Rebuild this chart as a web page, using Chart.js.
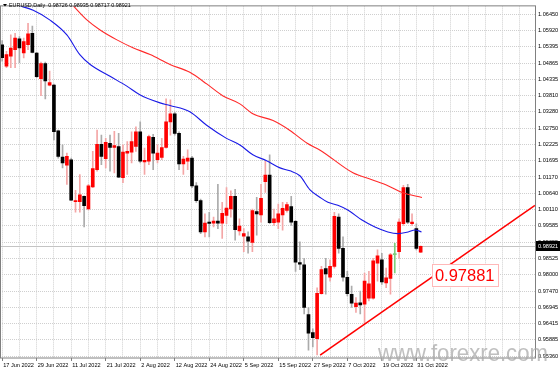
<!DOCTYPE html>
<html>
<head>
<meta charset="utf-8">
<script src="https://cdn.jsdelivr.net/npm/chart.js@4.4.0/dist/chart.umd.min.js"></script>
<style>
  html, body { margin: 0; padding: 0; background: #fff; }
  canvas { display: block; }
</style>
</head>
<body>
<canvas id="chart" width="560" height="373"></canvas>
<script>
// EURUSD daily candles, 17 Jun 2022 - 1 Nov 2022
const symbol = 'EURUSD,Daily';
const dateLabels = ['17 Jun 2022', '29 Jun 2022', '11 Jul 2022', '21 Jul 2022', '2 Aug 2022',
  '12 Aug 2022', '24 Aug 2022', '5 Sep 2022', '15 Sep 2022', '27 Sep 2022', '7 Oct 2022',
  '19 Oct 2022', '31 Oct 2022'];

const opens = [
  1.05460, 1.04766, 1.05086, 1.05300, 1.05651, 1.05194, 1.05460, 1.05834, 1.05194, 1.04363,
  1.04852, 1.04149, 1.04149, 1.02669, 1.01816, 1.01551, 1.01730, 1.00368, 1.00368, 1.00538,
  1.00132, 1.00848, 1.01410, 1.02232, 1.01762, 1.02264, 1.02126, 1.02158, 1.01145, 1.01944,
  1.01976, 1.02158, 1.02638, 1.01656, 1.01679, 1.02455, 1.01730, 1.01807, 1.02126, 1.02957,
  1.03222, 1.02583, 1.01592, 1.01679, 1.01784, 1.00880, 1.00400, 0.99387, 0.99707, 0.99675,
  0.99739, 0.99675, 0.99921, 1.00132, 1.00538, 0.99419, 0.99250, 0.99227, 0.99045, 1.00049,
  0.99940, 1.01017, 1.01231, 0.99684, 0.99707, 0.99940, 1.00081, 1.00209, 0.99729, 0.98396,
  0.98323, 0.96703, 0.96118, 0.95926, 0.97383, 0.98195, 0.97917, 0.98269, 0.99867, 0.98853,
  0.97917, 0.97364, 0.96958, 0.97086, 0.97045, 0.97236, 0.97236, 0.98374, 0.98483, 0.97735,
  0.97875, 0.98652, 0.98748, 0.99652, 1.00825, 0.99652, 0.99493, 0.98726
];
const highs = [
  1.05597, 1.05245, 1.05779, 1.05834, 1.05725, 1.05674, 1.06153, 1.06067, 1.05213, 1.04894,
  1.04894, 1.04606, 1.04181, 1.02689, 1.02209, 1.01944, 1.01784, 1.00739, 1.01251, 1.00560,
  1.00931, 1.01998, 1.02689, 1.02529, 1.02423, 1.02529, 1.02647, 1.02583, 1.02209, 1.02318,
  1.02638, 1.02797, 1.02957, 1.02104, 1.02529, 1.02551, 1.02209, 1.02423, 1.03702, 1.03670,
  1.03277, 1.02638, 1.01839, 1.02050, 1.01839, 1.00985, 1.00452, 0.99972, 1.00026, 0.99867,
  1.00931, 1.00346, 1.00825, 1.00720, 1.00771, 0.99812, 0.99493, 0.99387, 1.00132, 1.00506,
  1.00931, 1.01679, 1.01890, 1.00132, 1.00292, 1.00346, 1.00346, 1.00538, 0.99761, 0.99068,
  0.98534, 0.96936, 0.96245, 0.97575, 0.98269, 0.98534, 0.98483, 1.00026, 0.99972, 0.99227,
  0.98109, 0.97629, 0.97256, 0.97470, 0.98055, 0.98109, 0.98534, 0.98802, 0.98694, 0.98214,
  0.98694, 0.99013, 0.99812, 1.00899, 1.00931, 0.99972, 0.99652, 0.98935
];
const lows = [
  1.04926, 1.04715, 1.04715, 1.04715, 1.04875, 1.05035, 1.05300, 1.05194, 1.04395, 1.03807,
  1.03702, 1.04127, 1.02369, 1.01784, 1.01465, 1.00931, 1.00400, 1.00026, 1.00026, 0.99547,
  1.00100, 1.00825, 1.01359, 1.01570, 1.01465, 1.01359, 1.01305, 1.01145, 1.00985, 1.01251,
  1.01624, 1.01998, 1.01624, 1.01251, 1.01570, 1.01410, 1.01624, 1.01730, 1.02104, 1.02529,
  1.02529, 1.01410, 1.01251, 1.01410, 1.00825, 1.00346, 0.99333, 0.99227, 0.99227, 0.99547,
  0.99493, 0.99173, 0.99652, 0.99867, 0.99122, 0.99282, 0.98748, 0.98694, 0.98748, 0.99282,
  0.99707, 1.00666, 0.99652, 0.99601, 0.99493, 0.99441, 1.00026, 0.99601, 0.98109, 0.98163,
  0.96725, 0.95552, 0.95657, 0.95392, 0.97364, 0.97364, 0.97789, 0.98214, 0.98694, 0.97789,
  0.97310, 0.96936, 0.96776, 0.96725, 0.96405, 0.97150, 0.97204, 0.97789, 0.97684, 0.97575,
  0.97364, 0.98055, 0.98534, 0.99601, 0.99652, 0.99601, 0.98802, 0.98717
];
const closes = [
  1.05044, 1.05140, 1.05354, 1.05674, 1.05354, 1.05565, 1.05811, 1.05213, 1.04427, 1.04852,
  1.04287, 1.04236, 1.02638, 1.01839, 1.01624, 1.01839, 1.00420, 1.00400, 1.00592, 1.00241,
  1.00880, 1.01442, 1.02232, 1.01839, 1.02296, 1.02126, 1.02190, 1.01167, 1.01976, 1.01998,
  1.02318, 1.02638, 1.01679, 1.01711, 1.02478, 1.01944, 1.01944, 1.02126, 1.02957, 1.03222,
  1.02583, 1.01592, 1.01752, 1.01784, 1.00880, 1.00400, 0.99387, 0.99675, 0.99659, 0.99739,
  0.99675, 0.99994, 1.00164, 1.00538, 0.99461, 0.99579, 0.99333, 0.99090, 1.00081, 0.99972,
  1.00474, 1.01231, 0.99684, 0.99812, 0.99972, 1.00154, 1.00273, 0.99707, 0.98406, 0.98342,
  0.96936, 0.96105, 0.95958, 0.97396, 0.98163, 0.98023, 0.98269, 0.99889, 0.98853, 0.97917,
  0.97383, 0.97076, 0.97076, 0.97022, 0.97789, 0.97703, 0.98451, 0.98611, 0.97767, 0.97895,
  0.98643, 0.98652, 0.99707, 1.00825, 0.99707, 0.99707, 0.98853, 0.98921
];

// moving averages, sampled along the drawn curves (bar index, price)
const blueMaIdx = [3.7, 7.2, 11.1, 15.0, 18.0, 20.4, 25.0, 28.9, 31.9, 36.6, 38.9, 43.5, 47.4, 52.0,
  55.1, 58.1, 61.3, 64.4, 66.7, 69.0, 71.3, 73.7, 75.5, 77.8, 80.2, 83.4, 86.4, 89.4, 91.7, 94.1, 95.7, 97.2];
const blueMaVal = [1.06738, 1.06578, 1.06259, 1.05779, 1.05140, 1.04820, 1.04437, 1.04117, 1.03839,
  1.03574, 1.03488, 1.03286, 1.02848, 1.02423, 1.02209, 1.01890, 1.01698, 1.01465, 1.01369, 1.01209,
  1.00762, 1.00506, 1.00346, 1.00250, 1.00090, 0.99771, 0.99547, 0.99387, 0.99333, 0.99387, 0.99451, 0.99387];
const redMaIdx = [13.9, 16.4, 19.7, 22.7, 26.6, 30.3, 34.3, 38.9, 43.5, 47.5, 51.2, 55.1, 58.1, 62.8,
  66.7, 70.7, 73.7, 81.3, 85.7, 89.4, 92.7, 97.3];
const redMaVal = [1.07122, 1.06738, 1.06259, 1.05939, 1.05619, 1.05364, 1.05140, 1.04820, 1.04565,
  1.04181, 1.03798, 1.03542, 1.03222, 1.02999, 1.02679, 1.02264, 1.02040, 1.01305, 1.01081, 1.00889,
  1.00666, 1.00506];

// support trendline
const trendIdx = [73.7, 123.5];
const trendVal = [0.95392, 1.00250];
const trendLabel = 0.97881;

const priceTicks = [1.06450, 1.05920, 1.05395, 1.04865, 1.04335, 1.03810, 1.03280, 1.02750, 1.02225,
  1.01695, 1.01170, 1.00640, 1.00110, 0.99585, 0.99055, 0.98525, 0.98000, 0.97470, 0.96945, 0.96415,
  0.95885, 0.95360];

const n = closes.length;
const last = n - 1;
const tickFont = { family: 'Liberation Sans', size: 5.6 };

const bodyColors = closes.map((c, i) => c > opens[i] ? '#ff0000' : (c < opens[i] ? '#000000' : '#7ccf7c'));
const wickColors = closes.map((c, i) => c > opens[i] ? '#f4a6a6' : (c < opens[i] ? '#ababab' : '#7ccf7c'));

const wickData = closes.map((c, i) => ({ x: i, y: [lows[i], highs[i]] }));
const bodyData = closes.map((c, i) => ({ x: i, y: [opens[i], c] }));
const xy = (xs, ys) => xs.map((x, i) => ({ x: x, y: ys[i] }));

const extras = {
  id: 'extras',
  beforeDatasetsDraw(chart) {
    const { ctx, chartArea: a, scales: { y } } = chart;
    const py = Math.round(y.getPixelForValue(closes[last])) + 0.5;
    ctx.save();
    ctx.strokeStyle = '#c4c4c4';
    ctx.lineWidth = 1;
    ctx.beginPath();
    ctx.moveTo(a.left, py);
    ctx.lineTo(a.right, py);
    ctx.stroke();
    ctx.restore();
  },
  afterDraw(chart) {
    const { ctx, chartArea: a, scales: { x, y }, width } = chart;
    ctx.save();

    // frame
    ctx.strokeStyle = '#808080';
    ctx.lineWidth = 1;
    ctx.strokeRect(a.left + 0.5, a.top - 0.5, a.right - a.left, a.bottom - a.top + 0.5);

    // watermark
    ctx.save();
    ctx.font = '24px "Liberation Sans"';
    ctx.fillStyle = 'rgba(170,170,170,0.75)';
    const wm = 'www.forexre.com';
    const sx = 170 / ctx.measureText(wm).width;
    ctx.translate(width - 12, a.bottom + 3);
    ctx.scale(sx, 1);
    ctx.textAlign = 'right';
    ctx.textBaseline = 'alphabetic';
    ctx.fillText(wm, 0, 0);
    ctx.restore();

    // title
    ctx.fillStyle = '#000';
    ctx.beginPath();
    ctx.moveTo(3, 4); ctx.lineTo(7, 4); ctx.lineTo(5, 6.5); ctx.closePath();
    ctx.fill();
    ctx.font = '5.4px "Liberation Sans"';
    ctx.textAlign = 'left';
    ctx.textBaseline = 'middle';
    const ohlc = [opens[last], highs[last], lows[last], closes[last]].map(v => v.toFixed(5)).join(' ');
    ctx.fillText(symbol + '  ' + ohlc, 9, 5.5);

    // current price box on the axis
    const py = Math.round(y.getPixelForValue(closes[last]));
    ctx.fillStyle = '#000';
    ctx.fillRect(a.right + 1, py - 5, width - a.right - 1, 10);
    ctx.fillStyle = '#fff';
    ctx.font = '5.6px "Liberation Sans"';
    ctx.fillText(closes[last].toFixed(5), a.right + 3, py + 0.5);

    // trendline price label
    const lx = x.getPixelForValue(99.6);
    const ly = y.getPixelForValue(trendLabel) - 3;
    ctx.font = '16.5px "Liberation Sans"';
    const txt = trendLabel.toFixed(5);
    const tw = ctx.measureText(txt).width;
    ctx.fillStyle = '#fff';
    ctx.fillRect(lx, ly - 11, tw + 6, 22);
    ctx.strokeStyle = '#ffb8b8';
    ctx.strokeRect(Math.round(lx) + 0.5, Math.round(ly - 11) + 0.5, Math.round(tw + 6), 22);
    ctx.fillStyle = '#ff0000';
    ctx.textBaseline = 'middle';
    ctx.fillText(txt, lx + 3, ly + 1);

    ctx.restore();
  }
};

new Chart(document.getElementById('chart'), {
  type: 'bar',
  data: {
    datasets: [
      { type: 'line', data: xy(trendIdx, trendVal), borderColor: '#ff0000', borderWidth: 1.6,
        pointRadius: 0, order: 0 },
      { type: 'line', data: xy(redMaIdx, redMaVal), borderColor: '#ff2a2a', borderWidth: 1.1,
        pointRadius: 0, cubicInterpolationMode: 'monotone', order: 0 },
      { type: 'line', data: xy(blueMaIdx, blueMaVal), borderColor: '#1a1ae6', borderWidth: 1.1,
        pointRadius: 0, cubicInterpolationMode: 'monotone', order: 0 },
      { data: bodyData, backgroundColor: bodyColors, barThickness: 3, minBarLength: 1,
        grouped: false, order: 1 },
      { data: wickData, backgroundColor: wickColors, barThickness: 1, grouped: false, order: 2 }
    ]
  },
  options: {
    responsive: false,
    animation: false,
    events: [],
    layout: { padding: { top: 1, left: 0, right: 0, bottom: 0 } },
    plugins: { legend: { display: false }, tooltip: { enabled: false } },
    scales: {
      x: {
        type: 'linear',
        min: -0.5,
        max: 123.5,
        offset: false,
        afterBuildTicks: s => {
          s.ticks = [];
          for (let v = 0; v <= 120; v += 4) s.ticks.push({ value: v });
        },
        afterFit: s => { s.height = 15; },
        grid: {
          offset: false,
          color: '#cfcfcf',
          tickLength: 3,
          tickColor: c => (c.tick && c.tick.value % 8 === 0 && c.tick.value / 8 < dateLabels.length) ? '#808080' : 'rgba(0,0,0,0)'
        },
        border: { display: false, dash: [1, 1] },
        ticks: {
          autoSkip: false,
          maxRotation: 0,
          align: 'start',
          labelOffset: 1,
          padding: 1,
          color: '#000',
          font: tickFont,
          callback: v => (v % 8 === 0 && v / 8 < dateLabels.length) ? dateLabels[v / 8] : ''
        }
      },
      y: {
        type: 'linear',
        position: 'right',
        min: 0.95296,
        max: 1.06706,
        afterBuildTicks: s => { s.ticks = priceTicks.map(v => ({ value: v })); },
        afterFit: s => { s.width = 25; },
        grid: { color: '#cfcfcf', drawTicks: false },
        border: { display: false, dash: [1, 1] },
        ticks: {
          autoSkip: false,
          padding: 3,
          color: '#000',
          font: tickFont,
          callback: v => v.toFixed(5)
        }
      }
    }
  },
  plugins: [extras]
});
</script>
</body>
</html>
